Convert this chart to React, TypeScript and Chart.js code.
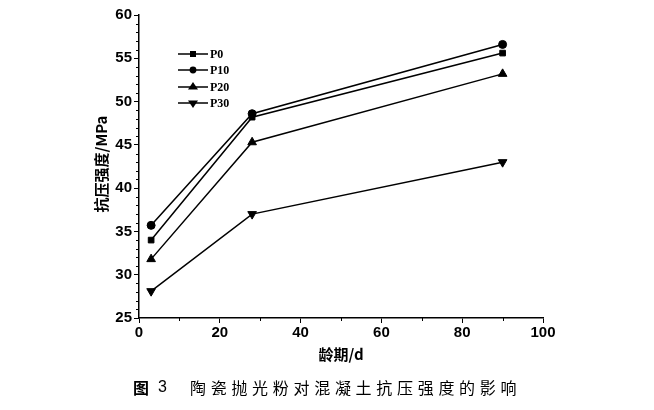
import { useEffect, useRef } from 'react';
import { Chart, registerables } from 'chart.js';
Chart.register(...registerables);

const days = [3, 28, 90];
const seriesNames = ['P0', 'P10', 'P20', 'P30'];
const p0 = [34.0, 48.2, 55.6];
const p10 = [35.7, 48.6, 56.6];
const p20 = [31.8, 45.3, 53.2];
const p30 = [28.1, 37.0, 43.0];
const xTicks = [0, 20, 40, 60, 80, 100];
const yTicks = [25, 30, 35, 40, 45, 50, 55, 60];
const xTitle = '龄期/d';
const yTitle = '抗压强度/MPa';
const captionFig = '图';
const captionNum = '3';
const captionText = '陶瓷抛光粉对混凝土抗压强度的影响';

const markerStyles: any[] = ['rect', 'circle', 'triangle', 'triangle'];
const markerRot = [0, 0, 0, 180];
const markerRad = [4, 4, 5, 5];

const AREA = { left: 139, top: 15, right: 543, bottom: 318 };

const decor = {
  id: 'decor',
  afterDraw(chart: any) {
    const ctx = chart.ctx as CanvasRenderingContext2D;
    const xs = chart.scales.x;
    const ys = chart.scales.y;
    ctx.save();
    ctx.strokeStyle = '#000';
    ctx.fillStyle = '#000';
    ctx.lineWidth = 1;
    // minor ticks
    for (let v = 26; v < 60; v++) {
      if (v % 5 === 0) continue;
      const y = Math.round(ys.getPixelForValue(v)) + 0.5;
      ctx.beginPath();
      ctx.moveTo(AREA.left - 3, y);
      ctx.lineTo(AREA.left, y);
      ctx.stroke();
    }
    for (let v = 10; v < 100; v += 20) {
      const x = Math.round(xs.getPixelForValue(v)) + 0.5;
      ctx.beginPath();
      ctx.moveTo(x, AREA.bottom);
      ctx.lineTo(x, AREA.bottom + 3);
      ctx.stroke();
    }
    // axis titles
    ctx.font = 'bold 15px "Noto Sans CJK SC", sans-serif';
    ctx.textAlign = 'center';
    ctx.textBaseline = 'middle';
    ctx.fillText(xTitle, (AREA.left + AREA.right) / 2, 354);
    ctx.save();
    ctx.translate(101, 164);
    ctx.rotate(-Math.PI / 2);
    ctx.fillText(yTitle, 0, 0);
    ctx.restore();
    // caption
    ctx.textAlign = 'left';
    ctx.font = 'bold 16px "Noto Sans CJK SC", sans-serif';
    ctx.fillText(captionFig, 133, 388);
    ctx.font = '16px "Liberation Sans", sans-serif';
    ctx.fillText(captionNum, 158, 388);
    ctx.font = '16px "Noto Sans CJK SC", sans-serif';
    const chars = Array.from(captionText);
    chars.forEach((c, i) => {
      ctx.fillText(c, 190 + i * 20.7, 388);
    });
    // legend
    const rows = [54, 70, 87, 103];
    chart.data.datasets.forEach((ds: any, i: number) => {
      const y = rows[i];
      ctx.lineWidth = 1.5;
      ctx.beginPath();
      ctx.moveTo(178, y);
      ctx.lineTo(208, y);
      ctx.stroke();
      drawMarker(ctx, markerStyles[i], markerRad[i], markerRot[i], 193, y);
      ctx.font = 'bold 12px "Liberation Serif", serif';
      ctx.textAlign = 'left';
      ctx.fillText(ds.label, 210, y + 1);
    });
    ctx.restore();
  },
};

function drawMarker(ctx: CanvasRenderingContext2D, style: string, r: number, rot: number, x: number, y: number) {
  ctx.save();
  ctx.translate(x, y);
  ctx.rotate((rot * Math.PI) / 180);
  ctx.beginPath();
  if (style === 'rect') {
    ctx.rect(-r * 0.75, -r * 0.75, r * 1.5, r * 1.5);
  } else if (style === 'circle') {
    ctx.arc(0, 0, r * 0.85, 0, Math.PI * 2);
  } else {
    const h = r * 1.5;
    ctx.moveTo(0, -r);
    ctx.lineTo(r, h - r);
    ctx.lineTo(-r, h - r);
    ctx.closePath();
  }
  ctx.fill();
  ctx.restore();
}

export default function App() {
  const ref = useRef<HTMLCanvasElement>(null);
  useEffect(() => {
    const all = [p0, p10, p20, p30];
    const chart = new Chart(ref.current!, {
      type: 'line',
      data: {
        datasets: all.map((vals, i) => ({
          label: seriesNames[i],
          data: days.map((d, j) => ({ x: d, y: vals[j] })),
          borderColor: '#000',
          backgroundColor: '#000',
          borderWidth: 1.5,
          pointStyle: markerStyles[i],
          pointRotation: markerRot[i],
          pointRadius: markerRad[i],
          pointBorderWidth: 1,
          tension: 0,
        })),
      },
      options: {
        animation: false,
        responsive: false,
        devicePixelRatio: 1,
        layout: { padding: { left: 0, top: AREA.top, right: 654 - AREA.right, bottom: 0 } },
        plugins: { legend: { display: false }, tooltip: { enabled: false } },
        scales: {
          x: {
            type: 'linear',
            min: 0,
            max: 100,
            afterBuildTicks: (s: any) => { s.ticks = xTicks.map((v) => ({ value: v })); },
            ticks: { color: '#000', font: { family: 'Liberation Sans', size: 15, weight: 'bold' }, padding: 1, maxRotation: 0 },
            grid: { drawOnChartArea: false, tickLength: 5, tickColor: '#000', tickWidth: 1 },
            border: { color: '#000', width: 1.5 },
            afterFit: (s: any) => { s.height = 410 - AREA.bottom; },
          },
          y: {
            type: 'linear',
            min: 25,
            max: 60,
            afterBuildTicks: (s: any) => { s.ticks = yTicks.map((v) => ({ value: v })); },
            ticks: { color: '#000', font: { family: 'Liberation Sans', size: 15, weight: 'bold' }, padding: 2 },
            grid: { drawOnChartArea: false, tickLength: 5, tickColor: '#000', tickWidth: 1 },
            border: { color: '#000', width: 1.5 },
            afterFit: (s: any) => { s.width = AREA.left; },
          },
        },
      },
      plugins: [decor],
    } as any);
    return () => chart.destroy();
  }, []);
  return (
    <div style={{ position: 'absolute', left: 0, top: 0, width: 654, height: 410, background: '#fff' }}>
      <canvas ref={ref} width={654} height={410} style={{ display: 'block', width: 654, height: 410 }} />
    </div>
  );
}
